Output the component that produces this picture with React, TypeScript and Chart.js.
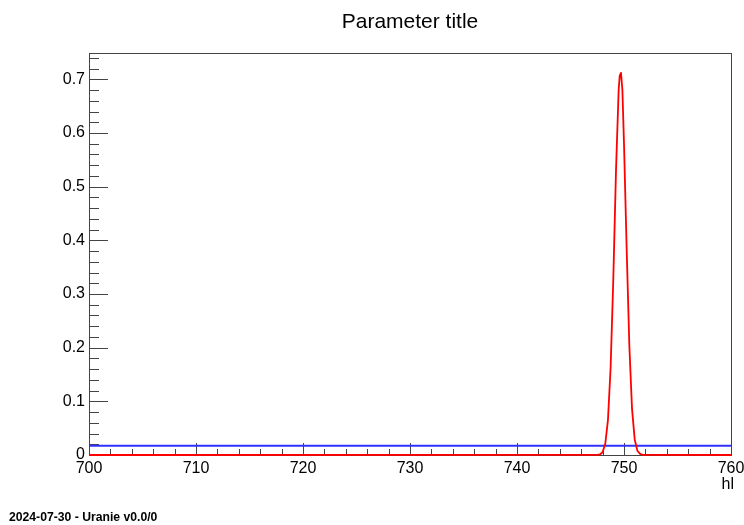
import React, { useEffect, useRef } from "react";
import { Chart, registerables } from "chart.js";

Chart.register(...registerables);

const redX = [700, 747.5, 747.75, 748.0, 748.25, 748.5, 748.75, 749.0, 749.25, 749.5, 749.6, 749.72, 749.85, 750.0, 750.25, 750.5, 750.75, 751.0, 751.25, 751.5, 751.75, 760];
const redY = [0, 0.0002, 0.001, 0.005, 0.021, 0.065, 0.163, 0.328, 0.528, 0.68, 0.707, 0.712, 0.68, 0.58, 0.383, 0.203, 0.086, 0.029, 0.008, 0.002, 0.0003, 0];
const blueX = [700, 760];
const blueY = [0.0173, 0.0173];
const xMajorTicks = [700, 710, 720, 730, 740, 750, 760];
const yMajorTicks = [0, 0.1, 0.2, 0.3, 0.4, 0.5, 0.6, 0.7];
const xMinorStep = 2;
const yMinorStep = 0.02;
const xMin = 700;
const xMax = 760;
const yMin = 0;
const yMax = 0.749;
const title = "Parameter title";
const xTitle = "hl";
const footer = "2024-07-30 - Uranie v0.0/0";

const FONT = '"Liberation Sans", Arial, Helvetica, sans-serif';

const framePlugin = {
  id: "rootFrame",
  beforeDatasetsDraw(chart: any) {
    const { ctx, chartArea } = chart;
    const { left, right, top, bottom } = chartArea;
    const xs = chart.scales.x;
    const ys = chart.scales.y;
    ctx.save();
    ctx.strokeStyle = "#444";
    ctx.lineWidth = 1;
    ctx.strokeRect(Math.round(left) + 0.5, Math.round(top) + 0.5, Math.round(right - left), Math.round(bottom - top));
    ctx.beginPath();
    for (let v = xMin; v <= xMax + 1e-9; v += xMinorStep) {
      const px = Math.round(xs.getPixelForValue(v)) + 0.5;
      const major = xMajorTicks.some((t) => Math.abs(t - v) < 1e-6);
      const len = major ? 12 : 6;
      ctx.moveTo(px, bottom);
      ctx.lineTo(px, bottom - len);
    }
    for (let v = yMin; v <= yMax + 1e-9; v += yMinorStep) {
      const py = Math.round(ys.getPixelForValue(v)) + 0.5;
      const major = yMajorTicks.some((t) => Math.abs(t - v) < 1e-6);
      const len = major ? 19 : 10;
      ctx.moveTo(left, py);
      ctx.lineTo(left + len, py);
    }
    ctx.stroke();
    ctx.restore();
  },
  afterDraw(chart: any) {
    const { ctx, chartArea } = chart;
    ctx.save();
    ctx.fillStyle = "#000";
    ctx.font = `21px ${FONT}`;
    ctx.textAlign = "center";
    ctx.textBaseline = "alphabetic";
    ctx.fillText(title, 410, 28);
    ctx.font = `16px ${FONT}`;
    ctx.textAlign = "right";
    ctx.fillText(xTitle, chartArea.right + 3, 489);
    ctx.font = `bold 12.2px ${FONT}`;
    ctx.textAlign = "left";
    ctx.fillText(footer, 9, 521);
    ctx.restore();
  },
};

export default function App() {
  const ref = useRef<HTMLCanvasElement | null>(null);
  useEffect(() => {
    document.body.style.margin = "0";
    const canvas = ref.current;
    if (!canvas) return;
    const chart = new Chart(canvas, {
      type: "line",
      data: {
        datasets: [
          {
            label: "red",
            data: redX.map((x, i) => ({ x, y: redY[i] })),
            borderColor: "#ff0000",
            borderWidth: 1.8,
            borderJoinStyle: "round",
            pointRadius: 0,
            tension: 0,
            fill: false,
            clip: false,
          },
          {
            label: "blue",
            data: blueX.map((x, i) => ({ x, y: blueY[i] })),
            borderColor: "#3030ff",
            borderWidth: 2,
            pointRadius: 0,
            tension: 0,
            fill: false,
            clip: false,
          },
        ],
      },
      options: {
        animation: false,
        responsive: false,
        devicePixelRatio: 1,
        layout: { padding: { left: 0, top: 53, right: 13, bottom: 0 } },
        plugins: { legend: { display: false }, title: { display: false }, tooltip: { enabled: false } },
        scales: {
          x: {
            type: "linear",
            min: xMin,
            max: xMax,
            grid: { display: false, drawTicks: false },
            border: { display: false },
            afterBuildTicks: (s: any) => {
              s.ticks = xMajorTicks.map((v) => ({ value: v }));
            },
            afterFit: (s: any) => {
              s.height = 70;
              s.paddingLeft = 0;
              s.paddingRight = 0;
            },
            ticks: {
              color: "#000",
              font: { family: FONT, size: 16 },
              padding: 4,
              maxRotation: 0,
              autoSkip: false,
              callback: (v: any) => String(v),
            },
          },
          y: {
            type: "linear",
            min: yMin,
            max: yMax,
            grid: { display: false, drawTicks: false },
            border: { display: false },
            afterBuildTicks: (s: any) => {
              s.ticks = yMajorTicks.map((v) => ({ value: v }));
            },
            afterFit: (s: any) => {
              s.width = 89;
              s.paddingTop = 0;
              s.paddingBottom = 0;
            },
            ticks: {
              color: "#000",
              font: { family: FONT, size: 16 },
              padding: 4,
              autoSkip: false,
              callback: (v: any) => (v === 0 ? "0" : Number(v).toFixed(1)),
            },
          },
        },
      },
      plugins: [framePlugin],
    } as any);
    return () => chart.destroy();
  }, []);
  return (
    <div style={{ position: "absolute", left: 0, top: 0, width: 744, height: 525, background: "#fff" }}>
      <canvas ref={ref} width={744} height={525} style={{ display: "block" }} />
    </div>
  );
}
